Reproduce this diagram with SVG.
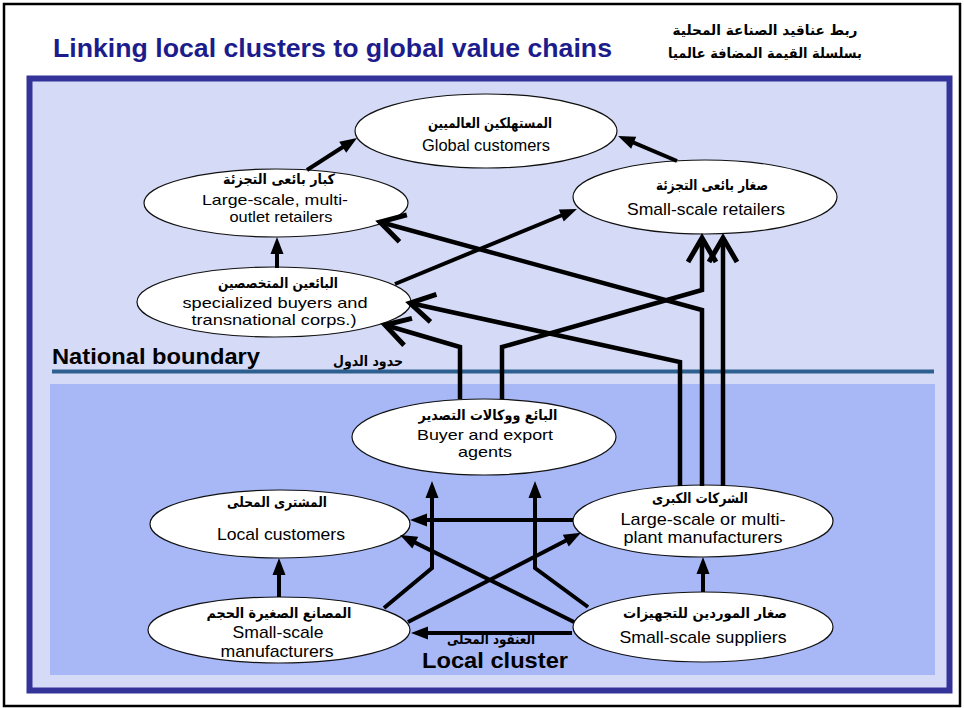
<svg xmlns="http://www.w3.org/2000/svg" width="964" height="708" viewBox="0 0 964 708">
<style>
.en{font-family:"Liberation Sans",Arial,sans-serif;font-size:17px;fill:#000;text-anchor:middle}
.en2{font-size:15px}
.ar{font-family:"DejaVu Sans",sans-serif;font-weight:bold;font-size:14px;fill:#000;text-anchor:middle}
.node ellipse{fill:#fff;stroke:#111;stroke-width:1.2}
.c{fill:none;stroke:#000;stroke-width:4}
.t{marker-end:url(#tri)}
.v{marker-end:url(#chev);stroke-width:4.5}
</style>
<defs>
<marker id="tri" markerUnits="userSpaceOnUse" viewBox="-10 -7 20 14" markerWidth="20" markerHeight="14" refX="0" refY="0" orient="auto">
<path d="M8,0 L-9,-6.5 L-9,6.5 Z" fill="#000"/>
</marker>
<marker id="chev" markerUnits="userSpaceOnUse" viewBox="-30 -18 36 36" markerWidth="36" markerHeight="36" refX="0" refY="0" orient="auto">
<path d="M-24,-14 L0,0 L-24,14" fill="none" stroke="#000" stroke-width="5"/>
</marker>
</defs>
<rect x="0" y="0" width="964" height="708" fill="#fff"/>
<rect x="4" y="4" width="956" height="702" fill="none" stroke="#000" stroke-width="2.5"/>
<g id="header">
<text x="53" y="57" font-family="Liberation Sans,Arial,sans-serif" font-weight="bold" font-size="26.5" fill="#1c1c8c" textLength="559" lengthAdjust="spacingAndGlyphs">Linking local clusters to global value chains</text>
<text class="ar" x="765" y="35" textLength="185" lengthAdjust="spacingAndGlyphs">ربط عناقيد الصناعة المحلية</text>
<text class="ar" x="765" y="58" textLength="194" lengthAdjust="spacingAndGlyphs">بسلسلة القيمة المضافة عالميا</text>
</g>
<g id="frame">
<rect x="29.5" y="78.5" width="920" height="612" fill="#D5DBF7" stroke="#333399" stroke-width="6"/>
<rect x="50" y="384" width="885" height="291" fill="#A8B8F7"/>
<line x1="52" y1="371.5" x2="934" y2="371.5" stroke="#2E6190" stroke-width="4"/>
<text x="52" y="364" font-family="Liberation Sans,Arial,sans-serif" font-weight="bold" font-size="22" fill="#000" textLength="208" lengthAdjust="spacingAndGlyphs">National boundary</text>
<text class="ar" x="368" y="366" font-size="12" textLength="70" lengthAdjust="spacingAndGlyphs">حدود الدول</text>
<text x="422" y="668" font-family="Liberation Sans,Arial,sans-serif" font-weight="bold" font-size="22" fill="#000" textLength="146" lengthAdjust="spacingAndGlyphs">Local cluster</text>
<text class="ar" x="491" y="644" font-size="11" textLength="88" lengthAdjust="spacingAndGlyphs">العنقود المحلى</text>
</g>
<g id="global-customers" class="node">
<ellipse cx="486" cy="131" rx="131" ry="37"/>
<text class="ar" x="490" y="128" textLength="124" lengthAdjust="spacingAndGlyphs">المستهلكين العالميين</text>
<text class="en" x="486" y="151" textLength="128" lengthAdjust="spacingAndGlyphs">Global customers</text>
</g>
<g id="large-retailers" class="node">
<ellipse cx="276" cy="203" rx="132" ry="34"/>
<text class="ar" x="279" y="184" textLength="112" lengthAdjust="spacingAndGlyphs">كبار بائعى التجزئة</text>
<text class="en en2"><tspan x="275" y="205" textLength="146" lengthAdjust="spacingAndGlyphs">Large-scale, multi-</tspan><tspan x="281" y="222" textLength="103" lengthAdjust="spacingAndGlyphs">outlet retailers</tspan></text>
</g>
<g id="specialized-buyers" class="node">
<ellipse cx="274" cy="302" rx="137" ry="35"/>
<text class="ar" x="278" y="288" textLength="120" lengthAdjust="spacingAndGlyphs">البائعين المتخصصين</text>
<text class="en en2"><tspan x="275" y="308" textLength="185" lengthAdjust="spacingAndGlyphs">specialized buyers and</tspan><tspan x="274" y="325" textLength="165" lengthAdjust="spacingAndGlyphs">transnational corps.)</tspan></text>
</g>
<g id="small-retailers" class="node">
<ellipse cx="705" cy="197" rx="132" ry="37"/>
<text class="ar" x="712" y="190" textLength="112" lengthAdjust="spacingAndGlyphs">صغار بائعى التجزئة</text>
<text class="en" x="706" y="215" textLength="158" lengthAdjust="spacingAndGlyphs">Small-scale retailers</text>
</g>
<g id="buyer-agents" class="node">
<ellipse cx="484" cy="437" rx="132" ry="38"/>
<text class="ar" x="488" y="420" textLength="139" lengthAdjust="spacingAndGlyphs">البائع ووكالات التصدير</text>
<text class="en en2"><tspan x="485" y="440" textLength="136" lengthAdjust="spacingAndGlyphs">Buyer and export</tspan><tspan x="485" y="457" textLength="54" lengthAdjust="spacingAndGlyphs">agents</tspan></text>
</g>
<g id="local-customers" class="node">
<ellipse cx="280" cy="524" rx="130" ry="34"/>
<text class="ar" x="277" y="507" textLength="100" lengthAdjust="spacingAndGlyphs">المشترى المحلى</text>
<text class="en" x="281" y="540" textLength="128" lengthAdjust="spacingAndGlyphs">Local customers</text>
</g>
<g id="small-manufacturers" class="node">
<ellipse cx="279" cy="630" rx="131" ry="33"/>
<text class="ar" x="279" y="618" textLength="145" lengthAdjust="spacingAndGlyphs">المصانع الصغيرة الحجم</text>
<text class="en"><tspan x="278" y="638" textLength="91" lengthAdjust="spacingAndGlyphs">Small-scale</tspan><tspan x="277" y="657" textLength="113" lengthAdjust="spacingAndGlyphs">manufacturers</tspan></text>
</g>
<g id="large-manufacturers" class="node">
<ellipse cx="703" cy="521" rx="130" ry="36"/>
<text class="ar" x="700" y="503" textLength="96" lengthAdjust="spacingAndGlyphs">الشركات الكبرى</text>
<text class="en"><tspan x="703" y="525" textLength="165" lengthAdjust="spacingAndGlyphs">Large-scale or multi-</tspan><tspan x="703" y="543" textLength="159" lengthAdjust="spacingAndGlyphs">plant manufacturers</tspan></text>
</g>
<g id="small-suppliers" class="node">
<ellipse cx="703" cy="627" rx="130" ry="35"/>
<text class="ar" x="705" y="618" textLength="164" lengthAdjust="spacingAndGlyphs">صغار الموردين للتجهيزات</text>
<text class="en" x="703" y="643" textLength="167" lengthAdjust="spacingAndGlyphs">Small-scale suppliers</text>
</g>
<g id="connectors">
<path class="c t" d="M307,170 L350.3,142.3"/>
<path class="c t" d="M677,161 L625.4,139.2"/>
<path class="c t" d="M277,268 L277,245"/>
<path class="c t" d="M395,284 L569.6,212"/>
<path class="c t" d="M573,520 L418,520"/>
<path class="c t" d="M279,597 L279,566"/>
<path class="c t" d="M703,592 L703,565"/>
<path class="c t" d="M574,622 L407.2,538.6"/>
<path class="c t" d="M408,622 L573.8,536.5"/>
<path class="c t" d="M572,633 L419,633"/>
<path class="c t" d="M384,608 L432,568 L432,489"/>
<path class="c t" d="M588,607 L535,568 L535,489"/>
<path class="c v" d="M702,486 L702,310 L380,222"/>
<path class="c v" d="M680,486 L680,362 L410,303"/>
<path class="c v" d="M723,486 L723,238"/>
<path class="c v" d="M502,399 L502,347 L702,290 L702,238"/>
<path class="c v" d="M460,399 L460,347 L385,325"/>
</g>
</svg>
